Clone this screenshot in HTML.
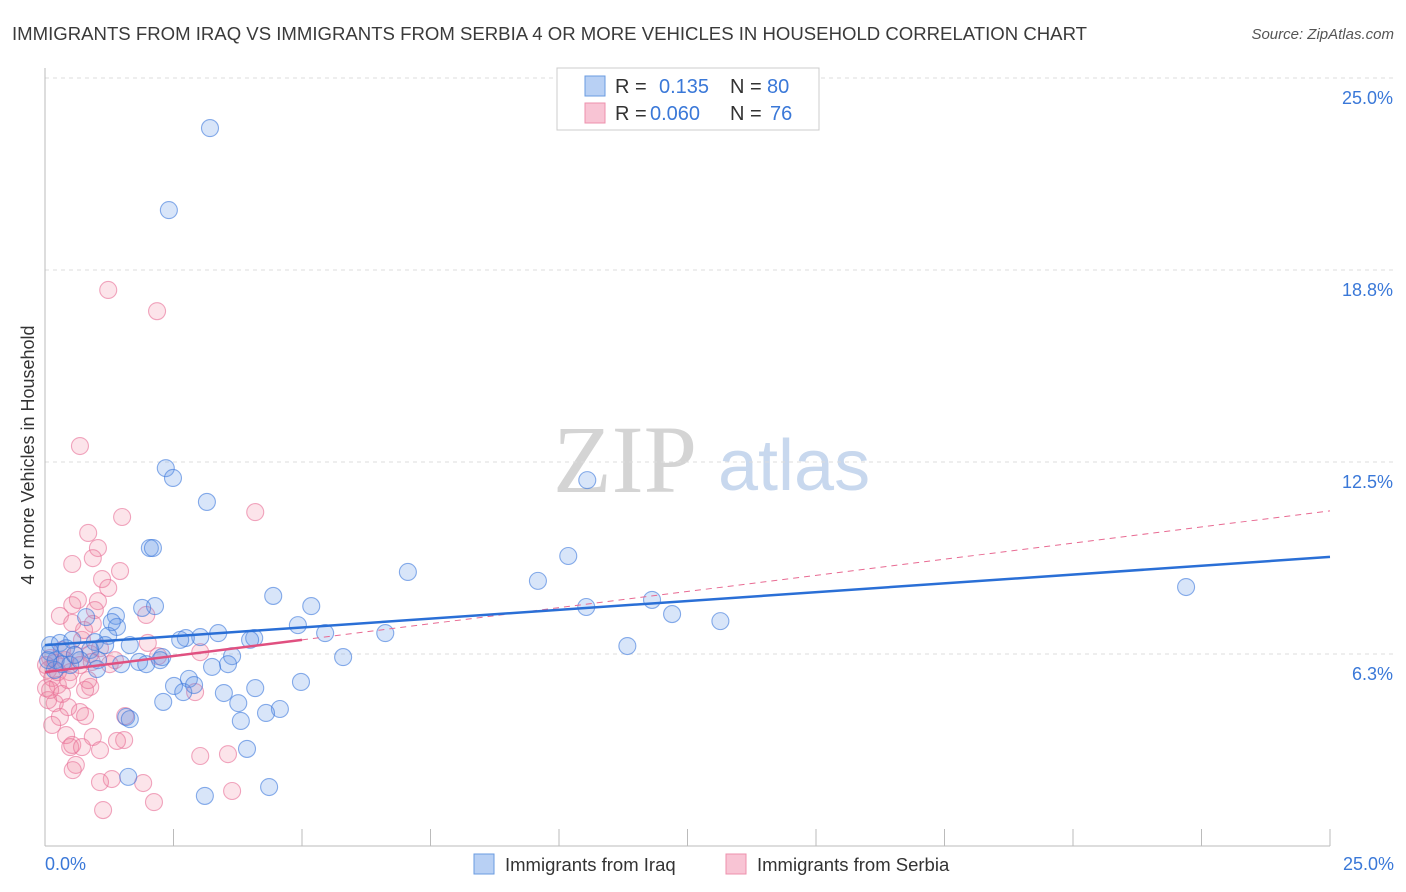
<!DOCTYPE html>
<html><head><meta charset="utf-8"><style>
body{margin:0;background:#fff;font-family:"Liberation Sans",sans-serif;}
#wrap{position:relative;width:1406px;height:892px;overflow:hidden;}
</style></head><body>
<div id="wrap">
<svg id="svg" width="1406" height="892" xmlns="http://www.w3.org/2000/svg">
<text x="12" y="40" font-size="18" fill="#3a3a3a" textLength="1075" lengthAdjust="spacingAndGlyphs">IMMIGRANTS FROM IRAQ VS IMMIGRANTS FROM SERBIA 4 OR MORE VEHICLES IN HOUSEHOLD CORRELATION CHART</text>
<text x="1394" y="39" font-size="15" fill="#555" text-anchor="end" font-style="italic">Source: ZipAtlas.com</text>
<text x="34" y="455" font-size="18" fill="#333" text-anchor="middle" transform="rotate(-90 34 455)">4 or more Vehicles in Household</text>
<text x="553" y="492" font-size="96" fill="#d4d4d4" font-family="Liberation Serif,serif">ZIP</text>
<text x="718" y="490" font-size="72" fill="#c8d8ee">atlas</text>
<g id="grid"></g><g id="pts"></g><g id="lines"></g>
<g>
<rect x="557" y="68" width="262" height="62" fill="#fff" stroke="#ccc"/>
<rect x="585" y="76" width="20" height="20" fill="#b8d0f4" stroke="#6a9be0"/>
<rect x="585" y="103" width="20" height="20" fill="#f8c4d4" stroke="#ee90ad"/>
<text x="615" y="93" font-size="20" fill="#333">R = </text><text x="659" y="93" font-size="20" fill="#3a78d8">0.135</text>
<text x="730" y="93" font-size="20" fill="#333">N = </text><text x="767" y="93" font-size="20" fill="#3a78d8">80</text>
<text x="615" y="120" font-size="20" fill="#333">R = </text><text x="650" y="120" font-size="20" fill="#3a78d8">0.060</text>
<text x="730" y="120" font-size="20" fill="#333">N = </text><text x="770" y="120" font-size="20" fill="#3a78d8">76</text>
</g>
<g>
<rect x="474" y="854" width="20" height="20" fill="#b8d0f4" stroke="#6a9be0"/>
<text x="505" y="871" font-size="18.5" fill="#333">Immigrants from Iraq</text>
<rect x="726" y="854" width="20" height="20" fill="#f8c4d4" stroke="#ee90ad"/>
<text x="757" y="871" font-size="18.5" fill="#333">Immigrants from Serbia</text>
</g>
</svg></div>
<script>
const yTicks=[6.25,12.5,18.75,25];
const yTickLabels=["6.3%","12.5%","18.8%","25.0%"];
const xTickLabels=["0.0%","25.0%"];
const iraqX=[3.21,2.41,10.55,2.35,2.49,3.15,2.04,2.10,10.18,7.06,9.59,22.20,4.44,5.18,10.53,2.14,1.89,11.81,12.20,13.14,4.92,1.38,1.40,0.80,1.30,5.45,6.62,3.37,3.02,2.74,4.07,3.99,1.23,0.10,0.29,0.53,0.97,1.17,0.88,11.33,5.80,3.64,3.56,3.25,2.28,1.83,1.97,1.48,1.03,0.21,0.33,0.49,1.01,2.80,2.51,2.69,2.90,4.98,3.48,4.09,2.30,3.76,4.57,4.30,3.81,1.58,1.65,3.93,1.62,4.36,3.11,0.10,0.58,0.19,0.41,0.68,1.65,2.24,2.63,0.06];
const iraqY=[23.37,20.70,11.91,12.30,11.98,11.20,9.70,9.70,9.44,8.92,8.63,8.43,8.14,7.81,7.78,7.81,7.75,8.01,7.55,7.32,7.19,7.49,7.13,7.45,7.29,6.93,6.93,6.93,6.80,6.77,6.77,6.71,6.84,6.54,6.61,6.71,6.64,6.54,6.38,6.51,6.15,6.18,5.92,5.83,6.15,5.99,5.92,5.92,6.05,6.05,5.92,5.89,5.76,5.44,5.21,5.01,5.24,5.34,4.98,5.14,4.69,4.65,4.46,4.33,4.07,4.20,4.13,3.16,2.25,1.92,1.63,6.31,6.22,5.73,6.44,6.05,6.54,6.05,6.71,6.05];
const serbiaX=[1.23,2.18,0.68,4.09,1.50,0.84,1.03,0.93,0.53,1.46,1.11,1.23,1.03,0.53,0.29,0.97,0.53,1.97,0.93,2.00,0.72,0.33,0.58,0.88,1.07,0.10,0.19,0.39,0.68,1.26,2.20,3.02,0.06,0.14,0.25,0.49,0.88,0.78,0.84,0.33,0.02,2.92,0.19,0.45,0.68,0.29,0.78,0.14,1.56,0.41,0.93,1.54,0.49,0.53,1.07,0.72,1.40,0.60,0.54,1.30,1.07,1.91,3.02,3.56,3.64,2.12,1.13,0.06,0.25,0.02,0.10,0.45,0.91,1.36,0.76,0.64];
const serbiaY=[18.10,17.41,13.02,10.87,10.71,10.19,9.70,9.37,9.18,8.95,8.69,8.40,7.97,7.84,7.49,7.68,7.26,7.52,7.23,6.61,6.71,6.38,6.22,6.25,6.44,6.12,5.96,6.05,5.89,5.92,6.18,6.31,5.73,5.47,5.24,5.66,5.18,5.08,5.40,4.95,5.14,5.01,4.65,4.52,4.36,4.20,4.23,3.94,4.23,3.61,3.55,3.45,3.22,3.29,3.12,3.22,3.42,2.64,2.47,2.18,2.08,2.05,2.93,2.99,1.79,1.43,1.17,4.75,5.66,5.89,5.08,5.40,5.99,6.05,7.03,8.01];
const iraqTrend=[6.54,9.41];
const serbiaTrend=[5.66,10.91];
const serbiaSolidEnd=5.0;
const NS="http://www.w3.org/2000/svg";
const X0=45,X1=1330,Y0=846,Y1=78;
const sx=v=>X0+(v/25)*(X1-X0);
const sy=v=>Y0-(v/25)*(Y0-Y1);
function mk(tag,attrs,parent){const e=document.createElementNS(NS,tag);for(const k in attrs)e.setAttribute(k,attrs[k]);parent.appendChild(e);return e;}
const grid=document.getElementById('grid');
yTicks.forEach((t,i)=>{
  const l=mk('line',{x1:X0,x2:1395,y1:sy(t),y2:sy(t),stroke:'#ddd','stroke-dasharray':'4,4'},grid);
  
  
  const tx=mk('text',{x:1393,y:sy(t)+26,'font-size':18,fill:'#3a78d8','text-anchor':'end'},grid);
  tx.textContent=yTickLabels[i];
  
  
});
mk('line',{x1:X0,x2:X0,y1:68,y2:Y0,stroke:'#bbb'},grid);
mk('line',{x1:X0,x2:X1,y1:Y0,y2:Y0,stroke:'#bbb'},grid);
for(let i=0;i<=10;i++){mk('line',{x1:sx(i*2.5),x2:sx(i*2.5),y1:Y0,y2:Y0-17,stroke:'#bbb'},grid);}
const xl0=mk('text',{x:45,y:870,'font-size':18,fill:'#3a78d8'},grid);xl0.textContent=xTickLabels[0];


const xl1=mk('text',{x:1394,y:870,'font-size':18,fill:'#3a78d8','text-anchor':'end'},grid);xl1.textContent=xTickLabels[1];


const pts=document.getElementById('pts');
serbiaX.forEach((x,i)=>{const c=mk('circle',{cx:sx(x),cy:sy(serbiaY[i]),r:8.5,fill:'rgba(240,130,160,0.22)',stroke:'rgba(232,110,150,0.6)','stroke-width':1.1},pts);

});
iraqX.forEach((x,i)=>{const c=mk('circle',{cx:sx(x),cy:sy(iraqY[i]),r:8.5,fill:'rgba(100,150,230,0.25)',stroke:'rgba(60,120,220,0.6)','stroke-width':1.1},pts);

});
const lines=document.getElementById('lines');
const sAt=x=>serbiaTrend[0]+(serbiaTrend[1]-serbiaTrend[0])*x/25;
const d=mk('line',{x1:sx(serbiaSolidEnd),y1:sy(sAt(serbiaSolidEnd)),x2:sx(25),y2:sy(serbiaTrend[1]),stroke:'#e86a92','stroke-width':1,'stroke-dasharray':'6,5'},lines);


const s=mk('line',{x1:sx(0),y1:sy(serbiaTrend[0]),x2:sx(serbiaSolidEnd),y2:sy(sAt(serbiaSolidEnd)),stroke:'#e05080','stroke-width':2.5},lines);


const b=mk('line',{x1:sx(0),y1:sy(iraqTrend[0]),x2:sx(25),y2:sy(iraqTrend[1]),stroke:'#2a6fd6','stroke-width':2.5},lines);


</script>
</body></html>
